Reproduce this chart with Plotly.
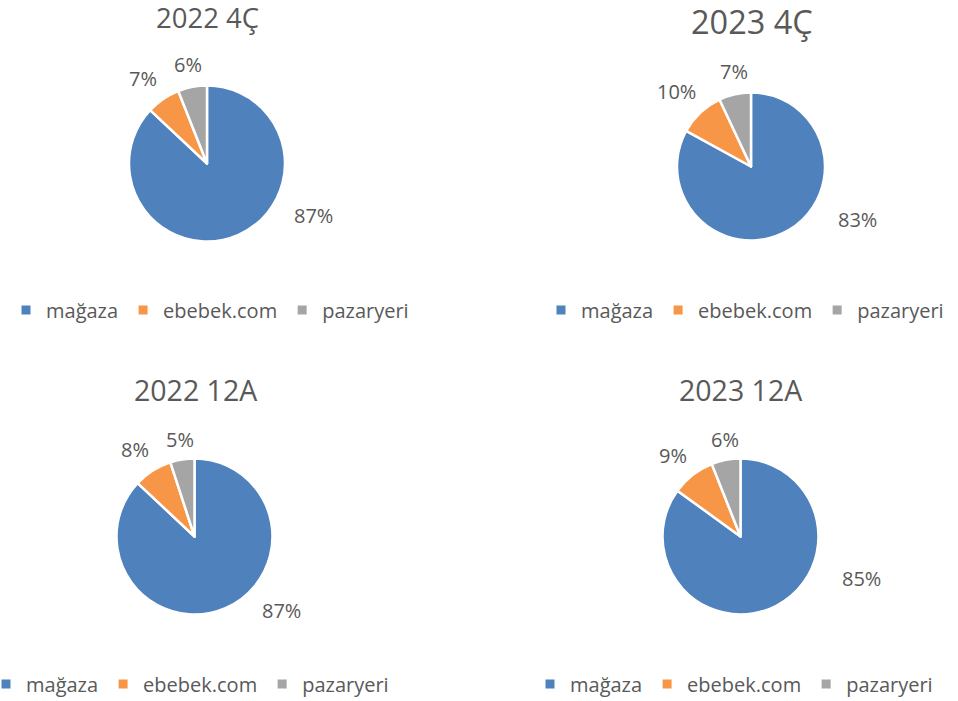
import plotly.graph_objects as go

W, H = 958, 701

categories = ["mağaza", "ebebek.com", "pazaryeri"]
titles = ["2022 4Ç", "2023 4Ç", "2022 12A", "2023 12A"]
q4_2022 = [87, 7, 6]
q4_2023 = [83, 10, 7]
y12_2022 = [87, 8, 5]
y12_2023 = [85, 9, 6]
series = [q4_2022, q4_2023, y12_2022, y12_2023]

colors = ["#4F81BD", "#F79646", "#A5A5A5"]
TXT = "#595959"
FONT = "Open Sans"

# layout (pixel) settings for each panel (page coordinates)
pies = [  # cx, cy, r
    (207, 163.5, 78),
    (751, 166.5, 74),
    (194.5, 536.5, 78),
    (740.5, 536.5, 78),
]
title_pos = [(207.5, 17, 27.5), (752, 22, 32.5), (195, 390, 28.5), (740, 390, 28.5)]
label_pos = [
    [(313, 215), (143, 78), (188, 65)],
    [(857, 220), (676, 92), (734, 72)],
    [(281, 610), (135, 449), (180, 439)],
    [(861, 578), (673, 455), (725, 439)],
]
legend_pos = [(44, 310), (579, 310), (24, 684), (568, 684)]

def px(x):
    return x / W

def py(y):
    return 1 - y / H

fig = go.Figure()
annotations = []
legend_names = ["legend", "legend2", "legend3", "legend4"]
for i, vals in enumerate(series):
    cx, cy, r = pies[i]
    fig.add_trace(go.Pie(
        labels=categories,
        values=vals,
        sort=False,
        direction="clockwise",
        rotation=0,
        marker=dict(colors=colors, line=dict(color="white", width=2.5)),
        textinfo="none",
        hoverinfo="label+value",
        domain=dict(x=[px(cx - r), px(cx + r)], y=[py(cy + r), py(cy - r)]),
        showlegend=False,
    ))
    # legend entries for this panel
    for k, cat in enumerate(categories):
        fig.add_trace(go.Scatter(
            x=[None], y=[None], mode="markers", name=cat,
            marker=dict(symbol="square", size=9, color=colors[k]),
            legend=legend_names[i], showlegend=True, hoverinfo="skip",
        ))
    tx, ty, ts = title_pos[i]
    annotations.append(dict(
        text=titles[i], x=px(tx), y=py(ty), xref="paper", yref="paper",
        xanchor="center", yanchor="middle", showarrow=False,
        font=dict(family=FONT, size=ts, color=TXT)))
    for j, v in enumerate(vals):
        lx, ly = label_pos[i][j]
        annotations.append(dict(
            text=f"{v}%", x=px(lx), y=py(ly), xref="paper", yref="paper",
            xanchor="center", yanchor="middle", showarrow=False,
            font=dict(family=FONT, size=20, color=TXT)))

legend_common = dict(
    orientation="h", xanchor="left", yanchor="middle",
    font=dict(family=FONT, size=20, color=TXT),
    bgcolor="rgba(0,0,0,0)", borderwidth=0, itemwidth=30,
    traceorder="normal",
)
lay = dict(
    width=W, height=H,
    margin=dict(l=0, r=0, t=0, b=0, autoexpand=False),
    paper_bgcolor="white", plot_bgcolor="white",
    annotations=annotations,
    xaxis=dict(visible=False), yaxis=dict(visible=False),
)
for i, name in enumerate(legend_names):
    lx, ly = legend_pos[i]
    lay[name] = dict(legend_common, x=px(lx - 38), y=py(ly))
fig.update_layout(**lay)

fig.write_html("out.html",
               config={"displayModeBar": False},
               post_script="document.body.style.margin='0';document.body.style.overflow='hidden';")
